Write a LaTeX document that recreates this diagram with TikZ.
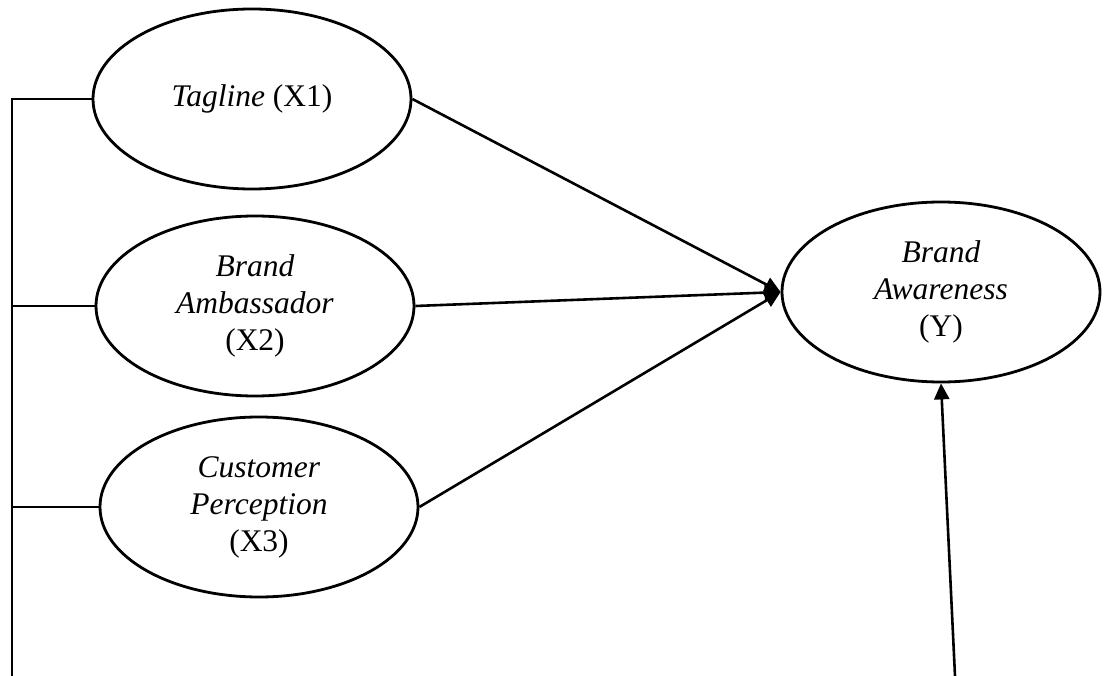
\documentclass[tikz,border=0pt]{standalone}
\usepackage{fontspec}
\setmainfont{Liberation Serif}
\usetikzlibrary{shapes.geometric,arrows.meta}
\begin{document}
\begin{tikzpicture}[x=1pt,y=-1pt,
  var/.style={ellipse,draw,line width=2.8pt,minimum width=318pt,minimum height=180pt,inner sep=0pt,align=center,font=\fontsize{31.5}{37}\selectfont},
  path/.style={line width=2.6pt,-{Triangle[length=16pt,width=15pt]}},
  thin/.style={line width=1.4pt}]
\useasboundingbox (0,0) rectangle (1104,676);
\node[var] (x1) at (252,99) {\textit{Tagline} (X1)};
\node[var] (x2) at (255,306) {\textit{Brand}\\\textit{Ambassador}\\(X2)};
\node[var] (x3) at (259,507) {\textit{Customer}\\\textit{Perception}\\(X3)};
\node[var] (y) at (941,292) {\textit{Brand}\\\textit{Awareness}\\(Y)};
\coordinate (busb) at (12,676);
\coordinate (ein) at (955,676);
\draw[thin] (busb) |- (x1.west);
\draw[thin] (x2.west -| busb) -- (x2.west);
\draw[thin] (x3.west -| busb) -- (x3.west);
\draw[path] (x1.east) -- (y.west);
\draw[path] (x2.east) -- (y.west);
\draw[path] (x3.east) -- (y.west);
\draw[path] (ein) -- (y.south);
\end{tikzpicture}
\end{document}
